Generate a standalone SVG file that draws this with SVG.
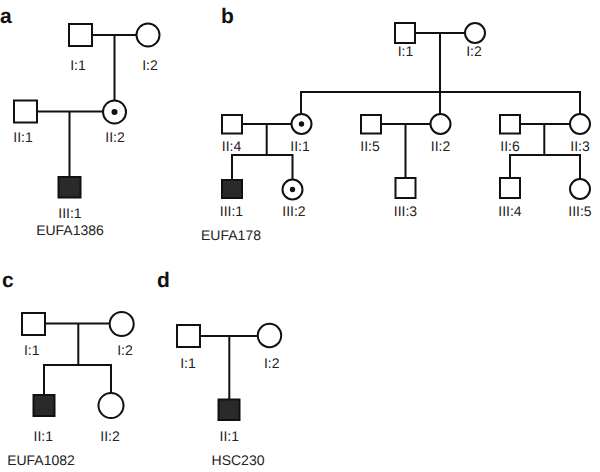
<svg xmlns="http://www.w3.org/2000/svg" width="600" height="472" viewBox="0 0 600 472">
<style>
.m{fill:#fff;stroke:#111;stroke-width:2}
.a{fill:#2a2a2a;stroke:#111;stroke-width:2}
.dot{fill:#111}
.ln{stroke:#111;stroke-width:2;fill:none}
text{font-family:"Liberation Sans",Arial,sans-serif;font-size:14px;fill:#222;text-anchor:middle;text-rendering:geometricPrecision}
.pl{font-size:21px;font-weight:bold;text-anchor:start;fill:#111}
</style>
<rect width="600" height="472" fill="#fff"/>
<g id="connectors">
<path class="ln" d="M92,35H136M114.5,35V100M37,111.5H102.5M69.5,111.5V177"/>
<path class="ln" d="M415,33H465M440,33V92M301,114V92H580V114M440,92V114"/>
<path class="ln" d="M242,124H291.5M266.7,124V155M232,180V155H292.5V179.5"/>
<path class="ln" d="M381,124H430M405.5,124V178"/>
<path class="ln" d="M520,124H570M544.3,124V155M510,178V155H580V179"/>
<path class="ln" d="M45,323.5H109.5M78.3,323.5V365M44,394.5V365H111V393"/>
<path class="ln" d="M200,336H257.5M229.3,336V399"/>
</g>
<g id="panel-labels">
<text class="pl" x="0" y="23">a</text>
<text class="pl" x="221" y="23">b</text>
<text class="pl" x="2" y="287">c</text>
<text class="pl" x="157" y="287">d</text>
</g>
<g id="a-I1"><rect class="m" x="69" y="24" width="23" height="22"/><text x="78" y="70">I:1</text></g>
<g id="a-I2"><circle class="m" cx="148" cy="35" r="11.5"/><text x="150" y="70">I:2</text></g>
<g id="a-II1"><rect class="m" x="14" y="100.5" width="23" height="22"/><text x="23" y="142">II:1</text></g>
<g id="a-II2"><circle class="m" cx="114.5" cy="112" r="11.5"/><circle class="dot" cx="114.5" cy="112" r="3"/><text x="115" y="142">II:2</text></g>
<g id="a-III1"><rect class="a" x="58.5" y="177" width="22" height="20.5"/><text x="70" y="218">III:1</text><text x="70" y="235">EUFA1386</text></g>
<g id="b-I1"><rect class="m" x="395" y="23" width="20" height="20"/><text x="405.5" y="56">I:1</text></g>
<g id="b-I2"><circle class="m" cx="475" cy="33" r="10"/><text x="474" y="56">I:2</text></g>
<g id="b-II4"><rect class="m" x="222" y="115" width="20" height="18.5"/><text x="231.5" y="151">II:4</text></g>
<g id="b-II1"><circle class="m" cx="301.5" cy="124" r="10"/><circle class="dot" cx="301.5" cy="124" r="2.7"/><text x="300" y="151">II:1</text></g>
<g id="b-II5"><rect class="m" x="361" y="115" width="20" height="18.5"/><text x="370" y="151">II:5</text></g>
<g id="b-II2"><circle class="m" cx="440.5" cy="124" r="10"/><text x="440.5" y="151">II:2</text></g>
<g id="b-II6"><rect class="m" x="500" y="115" width="20" height="18.5"/><text x="510" y="151">II:6</text></g>
<g id="b-II3"><circle class="m" cx="580" cy="124" r="10"/><text x="580" y="151">II:3</text></g>
<g id="b-III1"><rect class="a" x="222" y="180" width="20" height="18"/><text x="231.5" y="216">III:1</text><text x="231" y="240">EUFA178</text></g>
<g id="b-III2"><circle class="m" cx="292.5" cy="189.5" r="10"/><circle class="dot" cx="292.5" cy="189.5" r="2.7"/><text x="294" y="216">III:2</text></g>
<g id="b-III3"><rect class="m" x="395.5" y="178" width="20" height="20"/><text x="405.5" y="216">III:3</text></g>
<g id="b-III4"><rect class="m" x="500" y="178" width="20" height="20"/><text x="510" y="216">III:4</text></g>
<g id="b-III5"><circle class="m" cx="580" cy="189" r="10"/><text x="580" y="216">III:5</text></g>
<g id="c-I1"><rect class="m" x="22" y="313" width="23" height="22"/><text x="31.7" y="355">I:1</text></g>
<g id="c-I2"><circle class="m" cx="121.7" cy="324" r="12"/><text x="125" y="355">I:2</text></g>
<g id="c-II1"><rect class="a" x="33.5" y="395" width="21" height="21"/><text x="43.3" y="441">II:1</text></g>
<g id="c-II2"><circle class="m" cx="111" cy="405.5" r="12.5"/><text x="110" y="441">II:2</text></g>
<text x="41" y="465">EUFA1082</text>
<g id="d-I1"><rect class="m" x="177" y="325" width="23" height="22"/><text x="188" y="368">I:1</text></g>
<g id="d-I2"><circle class="m" cx="269.5" cy="335.5" r="11.7"/><text x="271.7" y="368">I:2</text></g>
<g id="d-II1"><rect class="a" x="218.5" y="399.5" width="21" height="20.5"/><text x="229.3" y="441">II:1</text><text x="238" y="465">HSC230</text></g>
</svg>
